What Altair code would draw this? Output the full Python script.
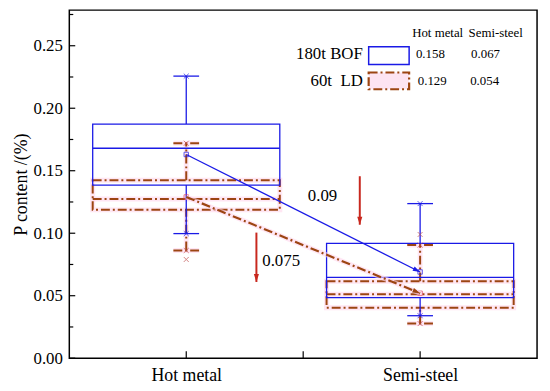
import altair as alt
import pandas as pd

# ---------------- data ----------------
categories = ["Hot metal", "Semi-steel"]
x_pos = [1, 2]

# 180t BOF box statistics
bof_q1 = [0.1385, 0.0485]
bof_med = [0.168, 0.0646]
bof_q3 = [0.1873, 0.0918]
bof_wlo = [0.0997, 0.034]
bof_whi = [0.2257, 0.1237]
bof_mean_pt = [0.163, 0.069]

# 60t LD box statistics
ld_q1 = [0.1187, 0.0403]
ld_med = [0.1274, 0.0511]
ld_q3 = [0.1424, 0.0615]
ld_wlo = [0.0862, 0.0277]
ld_whi = [0.172, 0.0905]
ld_mean_pt = [0.129, 0.052]
ld_out = [0.079, 0.099]

# legend table
legend_rows = ["180t BOF", "60t\u00a0\u00a0LD"]
legend_hot = ["0.158", "0.129"]
legend_semi = ["0.067", "0.054"]

# drop annotations
drop_labels = ["0.075", "0.09"]
drop_x = [1.30, 1.742]
drop_top = [0.1005, 0.1456]
drop_bot = [0.061, 0.1068]
drop_label_x = [1.325, 1.52]
drop_label_y = [0.0775, 0.1297]

BLUE = "#1a1ae6"
BROWN = "#9c4512"
RED = "#c8281e"
PINK = "#ffd6ec"
FONT = "Liberation Serif"
DASH = [9, 3, 2, 3]
HALF_BOX = 0.4
HALF_CAP = 0.055

W, H = 473, 352
xs = alt.Scale(domain=[0.5, 2.5], nice=False)
ys = alt.Scale(domain=[0, 0.2785], nice=False, zero=True)

x_axis = alt.Axis(values=[1, 1.5, 2], tickSize=0, domain=False, grid=False,
                  labelExpr="datum.value == 1 ? 'Hot metal' : (datum.value == 2 ? 'Semi-steel' : '')",
                  labelFont=FONT, labelFontSize=18, labelColor="black", labelPadding=9)
y_axis = alt.Axis(values=[0, 0.05, 0.1, 0.15, 0.2, 0.25], format=".2f", tickSize=0,
                  domain=False, grid=False, labelFont=FONT, labelFontSize=17,
                  labelColor="black", labelPadding=7, titleFont=FONT, titleFontSize=18,
                  titleFontWeight="normal", titleColor="black", titlePadding=3)

boxes = pd.DataFrame({
    "cat": categories, "x": x_pos,
    "bq1": bof_q1, "bmed": bof_med, "bq3": bof_q3, "bwlo": bof_wlo, "bwhi": bof_whi, "bmean": bof_mean_pt,
    "lq1": ld_q1, "lmed": ld_med, "lq3": ld_q3, "lwlo": ld_wlo, "lwhi": ld_whi, "lmean": ld_mean_pt,
    "lout": ld_out,
})
boxes["x0"] = boxes["x"] - HALF_BOX
boxes["x1"] = boxes["x"] + HALF_BOX
boxes["c0"] = boxes["x"] - HALF_CAP
boxes["c1"] = boxes["x"] + HALF_CAP

base = alt.Chart(boxes)

X = lambda f: alt.X(f, type="quantitative", scale=xs, axis=x_axis, title=None)
Y = lambda f: alt.Y(f, type="quantitative", scale=ys, axis=y_axis, title="P content /(%)")

layers = []

# inward ticks
ytick_vals = [i * 0.025 for i in range(12)]
ytick_df = pd.DataFrame({"v": ytick_vals, "major": [i % 2 == 0 for i in range(12)]})
layers.append(alt.Chart(ytick_df[ytick_df.major]).mark_rule(color="black", strokeWidth=1.2).encode(
    y=Y("v"), x=alt.value(0), x2=alt.value(6)))
layers.append(alt.Chart(ytick_df[~ytick_df.major]).mark_rule(color="black", strokeWidth=1.2).encode(
    y=Y("v"), x=alt.value(0), x2=alt.value(4)))
layers.append(alt.Chart(pd.DataFrame({"v": [1, 1.5, 2]})).mark_rule(color="black", strokeWidth=1.2).encode(
    x=X("v"), y=alt.value(H), y2=alt.value(H - 7)))

# ---- pink halo behind LD elements
halo = dict(color=PINK, strokeWidth=5, opacity=0.6)
layers.append(base.mark_rect(fillOpacity=0, stroke=PINK, strokeWidth=5, opacity=0.6).encode(
    x=X("x0"), x2="x1", y=Y("lq1"), y2="lq3"))
layers.append(base.mark_rule(**halo).encode(x=X("x0"), x2="x1", y=Y("lmed")))
layers.append(base.mark_rule(**halo).encode(x=X("x"), y=Y("lq3"), y2="lwhi"))
layers.append(base.mark_rule(**halo).encode(x=X("x"), y=Y("lwlo"), y2="lq1"))
layers.append(base.mark_rule(**halo).encode(x=X("c0"), x2="c1", y=Y("lwhi")))
layers.append(base.mark_rule(**halo).encode(x=X("c0"), x2="c1", y=Y("lwlo")))

# ---- LD (brown dash-dot) boxes
bd = dict(color=BROWN, strokeWidth=2, strokeDash=DASH)
layers.append(base.mark_rect(fillOpacity=0, stroke=BROWN, strokeWidth=2, strokeDash=DASH).encode(
    x=X("x0"), x2="x1", y=Y("lq1"), y2="lq3"))
layers.append(base.mark_rule(**bd).encode(x=X("x0"), x2="x1", y=Y("lmed")))
layers.append(base.mark_rule(**bd).encode(x=X("x"), y=Y("lq3"), y2="lwhi"))
layers.append(base.mark_rule(**bd).encode(x=X("x"), y=Y("lwlo"), y2="lq1"))
layers.append(base.mark_rule(**bd).encode(x=X("c0"), x2="c1", y=Y("lwhi")))
layers.append(base.mark_rule(**bd).encode(x=X("c0"), x2="c1", y=Y("lwlo")))

# ---- BOF (blue solid) boxes
bb = dict(color=BLUE, strokeWidth=1.3)
layers.append(base.mark_rect(fillOpacity=0, stroke=BLUE, strokeWidth=1.3).encode(
    x=X("x0"), x2="x1", y=Y("bq1"), y2="bq3"))
layers.append(base.mark_rule(**bb).encode(x=X("x0"), x2="x1", y=Y("bmed")))
layers.append(base.mark_rule(**bb).encode(x=X("x"), y=Y("bq3"), y2="bwhi"))
layers.append(base.mark_rule(**bb).encode(x=X("x"), y=Y("bwlo"), y2="bq1"))
layers.append(base.mark_rule(**bb).encode(x=X("c0"), x2="c1", y=Y("bwhi")))
layers.append(base.mark_rule(**bb).encode(x=X("c0"), x2="c1", y=Y("bwlo")))

# ---- x markers
XSHAPE = "M-1,-1L1,1M-1,1L1,-1"
for f, col in [("bwhi", BLUE), ("bwlo", BLUE), ("lwhi", "#c05050"), ("lout", "#c05050"), ("lwlo", "#c05050")]:
    layers.append(base.mark_point(shape=XSHAPE, size=25, filled=False, color=col, strokeWidth=1).encode(
        x=X("x"), y=Y(f)))

# mean squares
layers.append(base.mark_point(shape="square", size=20, filled=False, color=BLUE, strokeWidth=1).encode(
    x=X("x"), y=Y("bmean")))
layers.append(base.mark_point(shape="square", size=20, filled=False, color="#e04060", strokeWidth=1).encode(
    x=X("x"), y=Y("lmean")))

# ---- connecting arrows between means
ARROW = "M0,0L-1,-0.32L-1,0.32Z"
blue_line = pd.DataFrame({"x": x_pos, "y": bof_mean_pt})
brown_line = pd.DataFrame({"x": x_pos, "y": ld_mean_pt})
layers.append(alt.Chart(brown_line).mark_line(color=PINK, strokeWidth=5, opacity=0.6).encode(x=X("x"), y=Y("y")))
layers.append(alt.Chart(brown_line).mark_line(color=BROWN, strokeWidth=2.2, strokeDash=DASH).encode(x=X("x"), y=Y("y")))
layers.append(alt.Chart(blue_line).mark_line(color=BLUE, strokeWidth=1.3).encode(x=X("x"), y=Y("y")))
layers.append(alt.Chart(blue_line.iloc[[1]]).mark_point(shape=ARROW, size=220, filled=True, color=BLUE,
                                                        opacity=1, angle=26.5).encode(x=X("x"), y=Y("y")))
layers.append(alt.Chart(brown_line.iloc[[1]]).mark_point(shape=ARROW, size=240, filled=True, color=BROWN,
                                                         opacity=1, angle=22.2).encode(x=X("x"), y=Y("y")))

# ---- red drop arrows
drops = pd.DataFrame({"x": drop_x, "top": drop_top, "bot": drop_bot,
                      "lx": drop_label_x, "ly": drop_label_y, "label": drop_labels})
layers.append(alt.Chart(drops).mark_rule(color=RED, strokeWidth=2).encode(x=X("x"), y=Y("top"), y2="bot"))
layers.append(alt.Chart(drops).mark_point(shape=ARROW, size=260, filled=True, color=RED, opacity=1,
                                          angle=90).encode(x=X("x"), y=Y("bot")))
layers.append(alt.Chart(drops).mark_text(font=FONT, fontSize=17, align="left", baseline="middle",
                                         color="black").encode(x=X("lx"), y=Y("ly"), text="label:N"))

# ---- legend table
leg = pd.DataFrame({
    "name": legend_rows, "hot": legend_hot, "semi": legend_semi,
    "ny": [0.2437, 0.2215], "nx": [1.755, 1.755],
    "rx0": [1.780, 1.780], "rx1": [1.953, 1.953],
    "ry0": [0.2350, 0.2152], "ry1": [0.2492, 0.2286],
    "hx": [1.982, 1.990], "sx": [2.218, 2.214],
})
hdr = pd.DataFrame({"t": ["Hot metal", "Semi-steel"], "x": [2.075, 2.323], "y": [0.2605, 0.2605]})
layers.append(alt.Chart(hdr).mark_text(font=FONT, fontSize=13, align="center", baseline="middle",
                                       color="black").encode(x=X("x"), y=Y("y"), text="t:N"))
layers.append(alt.Chart(leg).mark_text(font=FONT, fontSize=17, align="right", baseline="middle",
                                       color="black").encode(x=X("nx"), y=Y("ny"), text="name:N"))
layers.append(alt.Chart(leg).mark_text(font=FONT, fontSize=13, align="left", baseline="middle",
                                       color="black").encode(x=X("hx"), y=Y("ny"), text="hot:N"))
layers.append(alt.Chart(leg).mark_text(font=FONT, fontSize=13, align="left", baseline="middle",
                                       color="black").encode(x=X("sx"), y=Y("ny"), text="semi:N"))
layers.append(alt.Chart(leg.iloc[[0]]).mark_rect(fillOpacity=0, stroke=BLUE, strokeWidth=1.5).encode(
    x=X("rx0"), x2="rx1", y=Y("ry0"), y2="ry1"))
layers.append(alt.Chart(leg.iloc[[1]]).mark_rect(fill="#fde4f2", stroke=BROWN, strokeWidth=2.2,
                                                 strokeDash=DASH).encode(
    x=X("rx0"), x2="rx1", y=Y("ry0"), y2="ry1"))

chart = alt.layer(*layers).properties(
    width=W, height=H,
    autosize=alt.AutoSizeParams(type="none"),
    padding={"left": 62, "top": 0, "right": 5, "bottom": 30},
    background="white",
).configure_view(stroke="black", strokeWidth=1.5)

chart.save("out.html", embed_options={"renderer": "svg", "actions": False})
